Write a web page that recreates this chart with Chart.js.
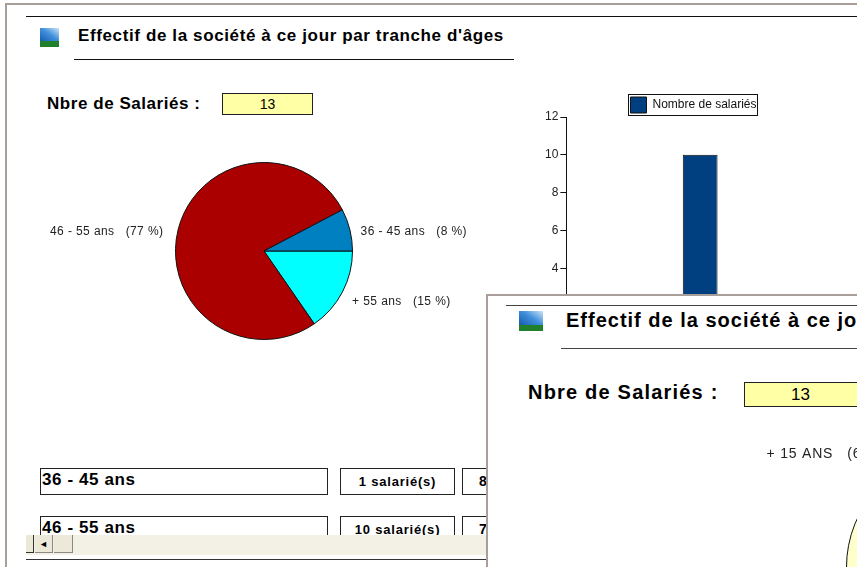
<!DOCTYPE html>
<html>
<head>
<meta charset="utf-8">
<script src="https://cdn.jsdelivr.net/npm/chart.js@4"></script>
<style>
html, body { margin: 0; padding: 0; background: #fff; }
#page { position: relative; width: 857px; height: 567px; overflow: hidden; background: #fff; font-family: "Liberation Sans", Arial, sans-serif; color: #000; }
.abs { position: absolute; }
.line { position: absolute; background: #111; height: 1px; }
.icon { position: absolute; background: linear-gradient(#0000 68%, #1f7f2a 70%), linear-gradient(215deg, #cfe4f5, #3f8fdc 40%, #08479c); }
.title { position: absolute; font-weight: bold; white-space: nowrap; }
.yellow { position: absolute; box-sizing: border-box; border: 1px solid #222; text-align: center; background: #ffffa6; }
.box { position: absolute; box-sizing: border-box; border: 1px solid #222; background: #fff; white-space: nowrap; overflow: hidden; }
canvas { position: absolute; }
#win { position: absolute; left: 486px; top: 294px; width: 371px; height: 273px; overflow: hidden; background: #fff; border-left: 2px solid #a89f9a; border-top: 2px solid #a89f9a; box-sizing: border-box; }
</style>
</head>
<body>
<div id="page">
  <div class="abs" style="left:5px;top:3px;width:852px;height:2px;background:#a89f9a"></div>
  <div class="abs" style="left:5px;top:3px;width:2px;height:564px;background:#a89f9a"></div>
  <div class="line" style="left:26px;top:16px;width:831px"></div>

  <div class="icon" style="left:40px;top:28px;width:19px;height:19px"></div>
  <div class="title" style="left:78px;top:26px;font-size:17px;letter-spacing:.62px">Effectif de la société à ce jour par tranche d'âges</div>
  <div class="line" style="left:74px;top:59px;width:440px"></div>

  <div class="title" style="left:47px;top:94px;font-size:17px;letter-spacing:.55px">Nbre de Salariés :</div>
  <div class="yellow" style="left:222px;top:93px;width:91px;height:22px;font-size:14px;line-height:20px">13</div>

  <canvas id="pieChart" style="left:40px;top:140px" width="440" height="222"></canvas>
  <canvas id="barChart" style="left:528px;top:84px" width="329" height="287"></canvas>

  <div class="box" style="left:40px;top:468px;width:288px;height:27px;font-size:17px;font-weight:bold;letter-spacing:.6px;line-height:22px;padding-left:1px">36 - 45 ans</div>
  <div class="box" style="left:340px;top:468px;width:115px;height:27px;font-size:13px;font-weight:bold;letter-spacing:.8px;line-height:25px;text-align:center">1 salarié(s)</div>
  <div class="box" style="left:462px;top:468px;width:80px;height:27px;font-size:14px;font-weight:bold;line-height:25px;padding-left:16px">8 %</div>
  <div class="box" style="left:40px;top:516px;width:288px;height:27px;font-size:17px;font-weight:bold;letter-spacing:.6px;line-height:22px;padding-left:1px">46 - 55 ans</div>
  <div class="box" style="left:340px;top:516px;width:115px;height:27px;font-size:13px;font-weight:bold;letter-spacing:.8px;line-height:25px;text-align:center">10 salarié(s)</div>
  <div class="box" style="left:462px;top:516px;width:80px;height:27px;font-size:14px;font-weight:bold;line-height:25px;padding-left:16px">77 %</div>

  <div class="abs" style="left:26px;top:535px;width:470px;height:20px;background:#f3f1e6"></div>
  <div class="abs" style="left:26px;top:535px;width:8px;height:18px;box-sizing:border-box;border-right:1px solid #333;border-bottom:1px solid #333;background:#ece9d8"></div>
  <div class="abs" style="left:35px;top:535px;width:18px;height:18px;box-sizing:border-box;border-right:1px solid #888;border-bottom:1px solid #888;background:#ece9d8;font-size:9px;line-height:18px;text-align:center">◄</div>
  <div class="abs" style="left:54px;top:535px;width:19px;height:18px;box-sizing:border-box;border-right:1px solid #888;border-bottom:1px solid #888;background:#ece9d8"></div>
  <div class="line" style="left:26px;top:559px;width:470px;background:#333"></div>

  <div id="win">
    <div class="line" style="left:18px;top:9px;width:360px;background:#444"></div>
    <div class="icon" style="left:31px;top:15px;width:24px;height:20px"></div>
    <div class="title" style="left:78px;top:13px;font-size:20px;letter-spacing:1px">Effectif de la société à ce jour par tranche d'âges</div>
    <div class="line" style="left:73px;top:52px;width:300px;background:#444"></div>
    <div class="title" style="left:40px;top:85px;font-size:20px;letter-spacing:1.2px">Nbre de Salariés :</div>
    <div class="yellow" style="left:256px;top:86px;width:120px;height:25px;font-size:17px;line-height:24px;text-align:left;padding-left:46px">13</div>
    <canvas id="pieChart2" style="left:212px;top:134px" width="400" height="270"></canvas>
  </div>
</div>

<script>
// camembert principal
const pieLabels = ['+ 55 ans   (15 %)', '46 - 55 ans   (77 %)', '36 - 45 ans   (8 %)'];
const pieValues = [2, 10, 1];
const pieColors = ['#00ffff', '#aa0000', '#0080c0'];

// histogramme
const barLabels = ['36 - 45 ans', '46 - 55 ans', '+ 55 ans'];
const barValues = [1, 10, 2];
const barTicks = [0, 2, 4, 6, 8, 10, 12];

// camembert de la seconde fenetre
const pie2Labels = ['+ 15 ANS   (62 %)', '- 15 ANS   (38 %)'];
const pie2Values = [8, 5];
const pie2Colors = ['#ffffcc', '#aa0000'];

// etiquettes autour du camembert
const sliceLabels = {
    id: 'sliceLabels',
    afterDatasetsDraw(chart, args, opts) {
        const ctx = chart.ctx;
        const arcs = chart.getDatasetMeta(0).data;
        ctx.save();
        ctx.font = opts.font;
        ctx.letterSpacing = opts.spacing;
        ctx.fillStyle = '#222';
        ctx.textBaseline = 'middle';
        arcs.forEach((arc, i) => {
            const mid = (arc.startAngle + arc.endAngle) / 2;
            const r = arc.outerRadius + opts.gap;
            const left = Math.cos(mid) < 0;
            const x = arc.x + Math.cos(mid) * r - (left ? opts.leftExtra : 0);
            const y = arc.y + Math.sin(mid) * r + opts.shift;
            ctx.textAlign = left ? 'right' : 'left';
            ctx.fillText(chart.data.labels[i], x, y);
        });
        ctx.restore();
    }
};

// legende decalee puis encadree en noir
const legendFrame = {
    id: 'legendFrame',
    beforeDraw(chart) {
        const l = chart.legend;
        l.left = 20;
        l.right = l.left + l.width;
        l.top = 10;
        l.bottom = l.top + l.height;
        l.adjustHitBoxes();
    },
    afterDraw(chart) {
        const hit = chart.legend.legendHitBoxes[0];
        const ctx = chart.ctx;
        ctx.save();
        ctx.strokeStyle = '#111';
        ctx.lineWidth = 1;
        ctx.strokeRect(Math.round(hit.left) - 1.5, Math.round(hit.top) - 9.5, Math.round(hit.width) + 3, Math.round(hit.height) + 5);
        ctx.restore();
    }
};

const pieCtx = document.getElementById('pieChart').getContext('2d');
const pieChart = new Chart(pieCtx, {
    type: 'pie',
    data: {
        labels: pieLabels,
        datasets: [{
            data: pieValues,
            backgroundColor: pieColors,
            borderColor: '#111',
            borderWidth: 1
        }]
    },
    options: {
        responsive: false,
        animation: false,
        rotation: 90,
        layout: { padding: { left: 134, right: 126, top: 22, bottom: 22 } },
        plugins: {
            legend: { display: false },
            tooltip: { enabled: false },
            sliceLabels: { font: '12px "Liberation Sans"', spacing: '0.4px', gap: 11, shift: 4, leftExtra: 4 }
        }
    },
    plugins: [sliceLabels]
});

const barCtx = document.getElementById('barChart').getContext('2d');
const barChart = new Chart(barCtx, {
    type: 'bar',
    data: {
        labels: barLabels,
        datasets: [{
            label: 'Nombre de salariés',
            data: barValues,
            backgroundColor: '#003f80',
            borderColor: '#111',
            borderWidth: 1,
            categoryPercentage: 1,
            barPercentage: 0.39
        }]
    },
    options: {
        responsive: false,
        animation: false,
        layout: { padding: { left: 15, right: 23, top: 4, bottom: 0 } },
        scales: {
            x: {
                grid: { display: false },
                border: { color: '#111' },
                ticks: { color: '#222', font: { family: '"Liberation Sans"', size: 11 } }
            },
            y: {
                min: 0,
                max: 12,
                afterBuildTicks(axis) {
                    axis.ticks = barTicks.map(v => ({ value: v }));
                },
                afterFit(axis) {
                    axis.paddingTop = 0;
                },
                grid: { drawOnChartArea: false, color: '#111', tickLength: 6 },
                border: { color: '#111' },
                ticks: { color: '#222', padding: 2, font: { family: '"Liberation Sans"', size: 12 } }
            }
        },
        plugins: {
            tooltip: { enabled: false },
            legend: {
                position: 'top',
                labels: {
                    boxWidth: 16,
                    boxHeight: 16,
                    padding: 3,
                    color: '#111',
                    font: { family: '"Liberation Sans"', size: 12 }
                }
            }
        }
    },
    plugins: [legendFrame]
});

const pie2Ctx = document.getElementById('pieChart2').getContext('2d');
const pieChart2 = new Chart(pie2Ctx, {
    type: 'pie',
    data: {
        labels: pie2Labels,
        datasets: [{
            data: pie2Values,
            backgroundColor: pie2Colors,
            borderColor: '#111',
            borderWidth: 1
        }]
    },
    options: {
        responsive: false,
        animation: false,
        rotation: 219,
        layout: { padding: { left: 146, right: 24, top: 22, bottom: 18 } },
        plugins: {
            legend: { display: false },
            tooltip: { enabled: false },
            sliceLabels: { font: '14px "Liberation Sans"', spacing: '0.8px', gap: 20, shift: 3, leftExtra: 0 }
        }
    },
    plugins: [sliceLabels]
});
</script>
</body>
</html>
